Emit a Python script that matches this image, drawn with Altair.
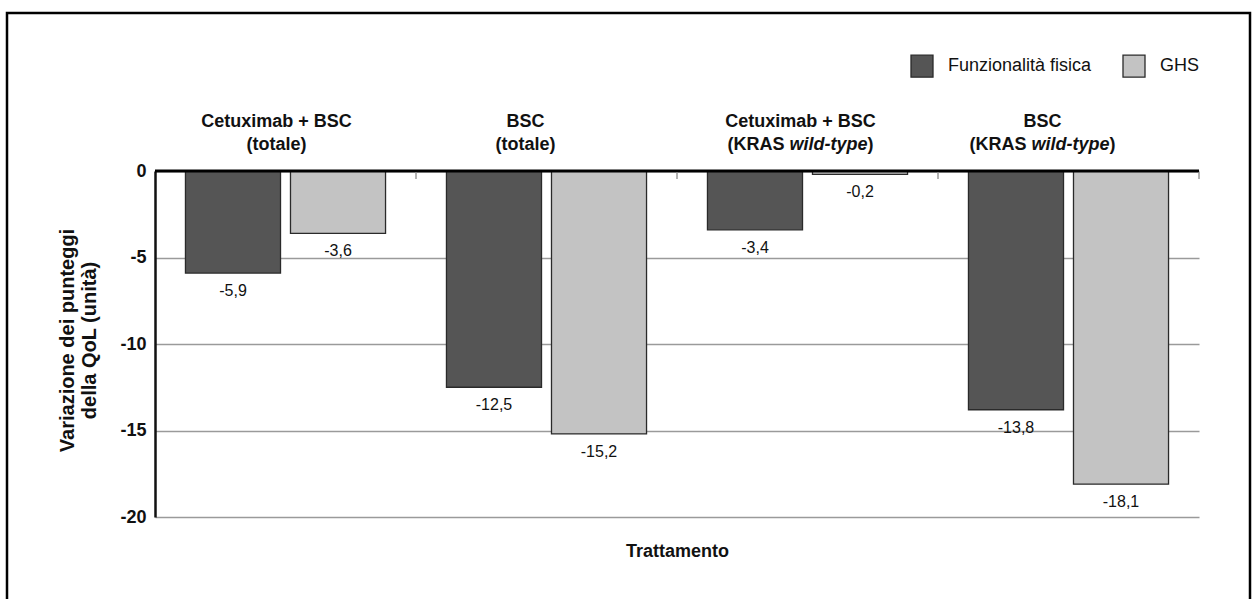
import altair as alt
import pandas as pd

# Treatment groups and their two-line headings
groups = ["Cetuximab + BSC (totale)", "BSC (totale)",
          "Cetuximab + BSC (KRAS wild-type)", "BSC (KRAS wild-type)"]
heading_line1 = ["Cetuximab + BSC", "BSC", "Cetuximab + BSC", "BSC"]
heading_prefix = ["(totale)", "(totale)", "(KRAS", "(KRAS"]
heading_italic = ["", "", "wild-type", "wild-type"]
heading_suffix = ["", "", ")", ")"]

# Series and change in QoL scores (units)
series = ["Funzionalità fisica", "GHS"]
funzionalita_fisica = [-5.9, -12.5, -3.4, -13.8]
ghs = [-3.6, -15.2, -0.2, -18.1]

y_ticks = [0, -5, -10, -15, -20]

# Horizontal nudge (px) of each heading relative to its group centre
HEADING_SHIFT = [-9, -21, -7, -26]

FONT = "Liberation Sans"
DARK = "#555555"
LIGHT = "#c3c3c3"
TXT = "#111111"

bars_df = pd.DataFrame({
    "group": groups * 2,
    "series": [series[0]] * 4 + [series[1]] * 4,
    "value": funzionalita_fisica + ghs,
})
heads_df = pd.DataFrame({
    "group": groups,
    "line1": heading_line1,
    "prefix": heading_prefix,
    "italic": heading_italic,
    "suffix": heading_suffix,
})

# Shared scales and axes (identical in every layer so they merge cleanly)
x_scale = alt.Scale(paddingInner=0, paddingOuter=0)
x_axis = alt.Axis(title="Trattamento", labels=False, ticks=False,
                  domain=False, grid=False, titleFont=FONT, titleFontSize=18,
                  titleFontWeight="bold", titleColor=TXT,
                  titleBaseline="middle", titleY=34)
y_scale = alt.Scale(domain=[-20, 0], nice=False, zero=False)
y_axis = alt.Axis(values=y_ticks, labelExpr="datum.value + ''",
                  ticks=False, labelPadding=9, labelFont=FONT,
                  labelFontSize=18, labelFontWeight="bold", labelColor=TXT,
                  grid=True, gridColor="#9a9a9a", gridWidth=1.5,
                  domain=True, domainColor="#111", domainWidth=2.5,
                  title=["Variazione dei punteggi", "della QoL (unità)"],
                  titleFont=FONT, titleFontSize=20,
                  titleFontWeight="bold", titleColor=TXT,
                  titleAngle=270, titleAlign="center",
                  titleBaseline="middle", titleLineHeight=22,
                  titleX=-88, titleY=169)


def gx(**kw):
    return alt.X("group:N", sort=groups, scale=x_scale, axis=x_axis, **kw)


x_off = alt.XOffset("series:N", sort=series,
                    scale=alt.Scale(paddingInner=0.095, paddingOuter=0.29))

bars = alt.Chart(bars_df).mark_bar(stroke="#2a2a2a", strokeWidth=1.3).encode(
    x=gx(),
    xOffset=x_off,
    y=alt.Y("value:Q", scale=y_scale, axis=y_axis),
    color=alt.Color("series:N", sort=series,
                    scale=alt.Scale(domain=series, range=[DARK, LIGHT]),
                    legend=alt.Legend(title=None, orient="none",
                                      legendX=755, legendY=-117,
                                      direction="horizontal",
                                      symbolType="square", symbolSize=484,
                                      symbolStrokeColor="#2a2a2a",
                                      symbolStrokeWidth=1.3,
                                      labelFont=FONT, labelFontSize=18,
                                      labelColor=TXT, labelOffset=14,
                                      columnPadding=28, padding=0)),
)

value_labels = alt.Chart(bars_df).transform_calculate(
    label="replace(toString(datum.value), '.', ',')"
).mark_text(font=FONT, fontSize=16, color=TXT, baseline="middle", dy=18).encode(
    x=gx(),
    xOffset=x_off,
    y=alt.Y("value:Q", scale=y_scale, axis=y_axis),
    text="label:N",
)

zero_line = alt.Chart(pd.DataFrame({"value": [0]})).mark_rule(
    color="#000", strokeWidth=3
).encode(y=alt.Y("value:Q", scale=y_scale, axis=y_axis))

separators = alt.Chart(heads_df).mark_rule(color="#8a8a8a", strokeWidth=1.3).encode(
    x=gx(bandPosition=1),
    y=alt.value(1),
    y2=alt.value(8),
)

head_style = dict(font=FONT, fontSize=18, fontWeight="bold", color=TXT,
                  baseline="alphabetic")
LINE1_Y = -44
LINE2_Y = -21

# Group headings; "(KRAS " upright + "wild-type" italic + ")" upright
heading_layers = []
for g, shift in zip(groups, HEADING_SHIFT):
    base = alt.Chart(heads_df).transform_filter(alt.datum.group == g)
    heading_layers.append(base.mark_text(align="center", dx=shift, **head_style).encode(
        x=gx(), y=alt.value(LINE1_Y), text="line1:N"))
    heading_layers.append(
        base.transform_filter("datum.italic == ''").mark_text(
            align="center", dx=shift, **head_style).encode(
            x=gx(), y=alt.value(LINE2_Y), text="prefix:N"))
    rich = base.transform_filter("datum.italic != ''")
    heading_layers.append(rich.mark_text(align="right", dx=shift - 16, **head_style).encode(
        x=gx(), y=alt.value(LINE2_Y), text="prefix:N"))
    heading_layers.append(rich.mark_text(align="center", dx=shift + 28, fontStyle="italic",
                                         **head_style).encode(
        x=gx(), y=alt.value(LINE2_Y), text="italic:N"))
    heading_layers.append(rich.mark_text(align="left", dx=shift + 67, **head_style).encode(
        x=gx(), y=alt.value(LINE2_Y), text="suffix:N"))

frame = alt.Chart(pd.DataFrame({"v": [0]})).mark_rect(
    filled=False, stroke="#000", strokeWidth=2.5
).encode(x=alt.value(-148), x2=alt.value(1095), y=alt.value(-158), y2=alt.value(460))

chart = alt.layer(
    bars, zero_line, separators, value_labels, *heading_layers, frame
).properties(
    width=1044, height=346,
    padding={"left": 155, "top": 171, "right": 56, "bottom": 82},
    autosize="none",
    background="white",
).configure_view(stroke=None)

chart.save("out.html", embed_options={"renderer": "svg", "actions": False})
